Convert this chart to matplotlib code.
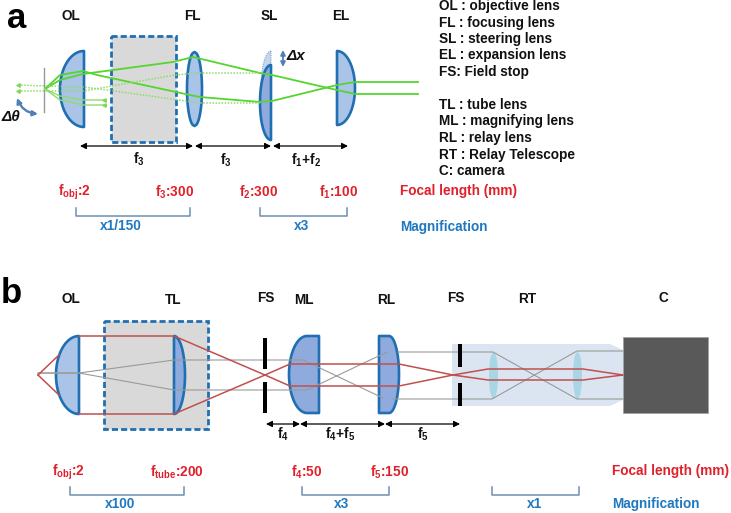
import numpy as np
import matplotlib
matplotlib.use("Agg")
import matplotlib.pyplot as plt
from matplotlib.patches import Polygon, Rectangle, FancyArrowPatch

plt.rcParams["font.family"] = ["Liberation Sans", "DejaVu Sans"]
plt.rcParams["font.weight"] = "bold"
plt.rcParams["mathtext.fontset"] = "custom"
plt.rcParams["mathtext.bf"] = "Liberation Sans:bold"
plt.rcParams["mathtext.rm"] = "Liberation Sans:bold"
plt.rcParams["mathtext.it"] = "Liberation Sans:bold"
plt.rcParams["mathtext.default"] = "bf"

BLUE = "#1f6fb2"
FILL = "#a9c4e6"
FILL_DARK = "#8faadc"
RED = "#e0202a"
MAG = "#1f78c0"
GREEN = "#55d52f"
RAY_RED = "#c0504d"
RAY_GREY = "#9a9a9a"
FS = 9.8

# legend on the right of panel a
legend_lines = ["OL : objective lens", "FL : focusing lens", "SL : steering lens",
                "EL : expansion lens", "FS: Field stop", "", "TL : tube lens",
                "ML : magnifying lens", "RL : relay lens", "RT : Relay Telescope", "C: camera"]

# (text, x, y)
a_names = [("OL", 71, 16), ("FL", 192, 16), ("SL", 269, 16), ("EL", 341, 16)]
b_names = [("OL", 71, 299), ("TL", 173, 300), ("FS", 266, 298), ("ML", 304, 300),
           ("RL", 386, 300), ("FS", 456, 298), ("RT", 527, 299), ("C", 663, 298)]

a_focal = [("f$_{obj}$:2", 74, 192), ("f$_3$:300", 175, 192), ("f$_2$:300", 259, 192), ("f$_1$:100", 339, 192)]
b_focal = [("f$_{obj}$:2", 68, 472), ("f$_{tube}$:200", 177, 472), ("f$_4$:50", 307, 472), ("f$_5$:150", 390, 472)]

a_brackets = [(76, 190, 208, 216), (260, 347, 208, 216)]
b_brackets = [(70, 184, 487, 495), (302, 389, 487, 495), (492, 579, 487, 495)]
a_mags = [("x1/150", 121, 226), ("x3", 302, 226)]
b_mags = [("x100", 120, 504), ("x3", 342, 504), ("x1", 535, 504)]

a_spans = [(80, 193, 146), (195, 271, 146), (273, 348, 146)]
a_span_labels = [("f$_3$", 139, 159), ("f$_3$", 226, 160), ("f$_1$+f$_2$", 306, 160)]
b_spans = [(266, 300, 424), (300, 385, 424), (385, 460, 424)]
b_span_labels = [("f$_4$", 283, 434), ("f$_4$+f$_5$", 340, 434), ("f$_5$", 423, 434)]

green_solid = [
    [(45, 89), (60, 75), (83, 71), (97, 75), (190, 95), (200, 97), (260, 102), (272, 101), (337, 85), (355, 82), (418, 82)],
    [(45, 89), (60, 80), (83, 74), (173, 62), (193, 57), (260, 73), (272, 75), (328, 88), (355, 94), (418, 94)],
]
green_thin = [[(45, 89), (60, 96), (84, 100), (103, 100)], [(45, 89), (60, 100), (84, 105), (103, 105)]]
green_dotted = [
    [(18, 85), (45, 86), (83, 87), (100, 89), (200, 103), (260, 103)],
    [(18, 91), (83, 91), (175, 75), (197, 73), (260, 73)],
]
green_tips_x = [18, 18, 104, 104]
green_tips_y = [85, 91, 100, 105]

red_rays = [
    [(38, 375), (59, 355)],
    [(38, 375), (59, 395)],
    [(79, 336), (174, 336), (265, 375), (290, 386), (399, 386), (453, 375), (488, 369), (583, 369), (623, 375)],
    [(79, 414), (174, 414), (265, 375), (290, 364), (399, 364), (453, 375), (488, 380), (583, 380), (623, 375)],
]
grey_rays = [
    [(38, 373), (79, 373), (174, 390), (307, 390), (387, 352)],
    [(38, 373), (79, 373), (174, 360), (303, 360), (383, 398)],
    [(398, 352), (493, 352), (577, 399), (623, 399)],
    [(392, 399), (492, 399), (577, 351), (623, 351)],
]

# field stop bars: x, y0, y1
stop_bars = [(265, 338, 369), (265, 382, 413), (460, 344, 367), (460, 383, 406)]


def half_lens(flat_x, edge_x, y0, y1, cap_x=None):
    # flat on one side, elliptical bulge on the other, cap_x gives the flat top of ML and RL
    if cap_x is None:
        cap_x = flat_x
    yc = (y0 + y1) / 2
    h = (y1 - y0) / 2
    t = np.linspace(-np.pi / 2, np.pi / 2, 80)
    xx = cap_x + (edge_x - cap_x) * np.cos(t)
    yy = yc + h * np.sin(t)
    pts = np.column_stack([xx, yy])
    return np.vstack([[(flat_x, y0)], pts, [(flat_x, y1)]])


def bi_lens(x0, x1, y0, y1):
    yc = (y0 + y1) / 2
    h = (y1 - y0) / 2
    xc = (x0 + x1) / 2
    t = np.linspace(-1, 1, 60)
    w = (x1 - x0) / 2 * np.sqrt(1 - t ** 2)
    return np.vstack([np.column_stack([xc - w, yc + h * t]),
                      np.column_stack([xc + w, yc + h * t])[::-1]])


fig = plt.figure(figsize=(7.31, 5.13), dpi=100)
ax = fig.add_axes([0, 0, 1, 1])
ax.set_xlim(0, 731)
ax.set_ylim(513, 0)
ax.axis("off")


def lens(pts, fc=FILL, ec=BLUE, lw=1.9, z=3, ls="-"):
    ax.add_patch(Polygon(pts, closed=True, fc=fc, ec=ec, lw=lw, zorder=z, ls=ls, joinstyle="round"))


def rays(paths, color, lw, z=5, ls="-"):
    for p in paths:
        p = np.array(p)
        ax.plot(p[:, 0], p[:, 1], color=color, lw=lw, ls=ls, zorder=z)


def span(x0, x1, y):
    ax.add_patch(FancyArrowPatch((x0, y), (x1, y), arrowstyle="<|-|>", mutation_scale=9,
                                 color="black", lw=0.9, shrinkA=0, shrinkB=0, zorder=6))


def bracket(x0, x1, y0, y1):
    ax.plot([x0, x0, x1, x1], [y0, y1, y1, y0], color="#6f8fb0", lw=1.1, zorder=4)


# panel letters
ax.text(7, 28, "a", fontsize=25, ha="left", va="baseline")
ax.text(1, 303, "b", fontsize=25, ha="left", va="baseline")

for s, x, y in a_names + b_names:
    ax.text(x, y, s, fontsize=FS, ha="center", va="center", color="#111111")

for i, s in enumerate(legend_lines):
    ax.text(439, 6 + i * 16.5, s, fontsize=FS, ha="left", va="center", color="#111111")

# panel a optics
ax.add_patch(Rectangle((111, 36), 65, 106, fc="#d9d9d9", ec=BLUE, lw=2, ls=(0, (2.2, 1.1)), zorder=2))
ax.plot([44, 44], [68, 112], color="#999999", lw=1, zorder=2)
lens(half_lens(84, 60, 51, 127))
lens(bi_lens(187, 202, 52, 126))
lens(half_lens(271, 261, 51, 125), fc="#c5d5ec", ec="#7fa6cc", lw=0.8, ls=(0, (1, 1)))
lens(half_lens(271, 260, 65, 140), fc=FILL_DARK, z=4)
lens(half_lens(337, 355, 51, 125))
rays(green_solid, GREEN, 1.3)
rays(green_thin, "#8fdc6a", 1.0)
rays(green_dotted, "#8fdc6a", 1.1, ls=(0, (1, 1)))
ax.plot(green_tips_x, green_tips_y, color="#7fd85a", lw=0, marker="<", ms=2.5, zorder=5)

for s in a_spans:
    span(*s[:2], s[2])
for s, x, y in a_span_labels + b_span_labels:
    ax.text(x, y, s, fontsize=FS, ha="center", va="center", color="#111111")

ax.text(11, 117, "Δθ", fontsize=11, ha="center", va="center", style="italic", color="#111111")
ax.text(296, 56, "Δx", fontsize=11, ha="center", va="center", style="italic", color="#111111")
ax.add_patch(FancyArrowPatch((17, 98), (38, 114), arrowstyle="<|-|>", mutation_scale=7,
                             connectionstyle="arc3,rad=0.3", color="#4f7fb8", lw=1.7, shrinkA=0, shrinkB=0))
ax.add_patch(FancyArrowPatch((283, 50), (283, 67), arrowstyle="<|-|>", mutation_scale=7,
                             color="#4f7fb8", lw=1.3, shrinkA=0, shrinkB=0))

for s, x, y in a_focal + b_focal:
    ax.text(x, y, s, fontsize=FS, ha="center", va="center", color=RED)
for b in a_brackets + b_brackets:
    bracket(*b)
for s, x, y in a_mags + b_mags:
    ax.text(x, y, s, fontsize=FS, ha="center", va="center", color=MAG)
ax.text(400, 191, "Focal length (mm)", fontsize=FS, ha="left", va="center", color=RED)
ax.text(400, 227, "Magnification", fontsize=FS, ha="left", va="center", color=MAG)
ax.text(612, 471, "Focal length (mm)", fontsize=FS, ha="left", va="center", color=RED)
ax.text(612, 504, "Magnification", fontsize=FS, ha="left", va="center", color=MAG)

# panel b optics
ax.add_patch(Rectangle((104, 321), 104, 108, fc="#d9d9d9", ec=BLUE, lw=2, ls=(0, (2.2, 1.1)), zorder=2))
ax.add_patch(Polygon([(452, 344), (610, 344), (623, 350), (623, 400), (610, 406), (452, 406)],
                     closed=True, fc="#dbe5f1", ec="none", zorder=1))
lens(half_lens(79, 56, 336, 414))
lens(half_lens(174, 185, 336, 414), fc=FILL_DARK)
lens(half_lens(319, 289, 336, 413, cap_x=307), fc=FILL_DARK)
lens(half_lens(379, 399, 336, 413, cap_x=389), fc=FILL_DARK)
lens(bi_lens(489, 498, 352, 399), fc="#a9d6e5", ec="none", z=3)
lens(bi_lens(573, 582, 352, 399), fc="#a9d6e5", ec="none", z=3)
ax.add_patch(Rectangle((623, 337), 85, 76, fc="#595959", ec="#a0a0a0", lw=0.5, zorder=6))
rays(grey_rays, RAY_GREY, 0.8)
rays(red_rays, RAY_RED, 1.1)
for x, y0, y1 in stop_bars:
    ax.add_patch(Rectangle((x - 2.3, y0), 4.6, y1 - y0, fc="black", ec="none", zorder=7))
for s in b_spans:
    span(*s[:2], s[2])

fig.savefig("out.png", dpi=100)
